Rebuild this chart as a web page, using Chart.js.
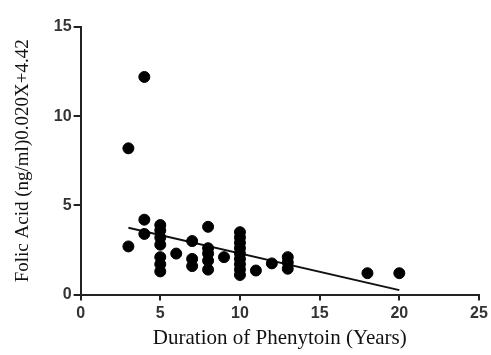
<!DOCTYPE html>
<html>
<head>
<meta charset="utf-8">
<script src="https://cdn.jsdelivr.net/npm/chart.js@4"></script>
<style>
  html, body { margin: 0; padding: 0; background: #fff; }
  #wrap { width: 491px; height: 355px; }
</style>
</head>
<body>
<div id="wrap"><canvas id="folicChart" width="491" height="355"></canvas></div>
<script>
// Patient data: duration of phenytoin (years) vs folic acid (ng/ml)
const durationYears = [3, 3, 4, 4, 4, 5, 5, 5, 5, 5, 5, 5, 6, 7, 7, 7, 8, 8, 8, 8, 8, 9,
    10, 10, 10, 10, 10, 10, 10, 10, 10, 11, 12, 13, 13, 13, 18, 20];
const folicAcid = [8.2, 2.7, 12.2, 4.2, 3.4, 3.9, 3.6, 3.2, 2.8, 2.1, 1.7, 1.3, 2.3, 3.0, 2.0, 1.6,
    3.8, 2.6, 2.3, 1.9, 1.4, 2.1,
    3.5, 3.2, 2.9, 2.6, 2.3, 2.0, 1.7, 1.4, 1.1, 1.35, 1.75, 2.1, 1.8, 1.45, 1.2, 1.2];

// Regression line end points
const fitX = [3, 20];
const fitY = [3.75, 0.25];

const xTicks = [0, 5, 10, 15, 20, 25];
const yTicks = [0, 5, 10, 15];

const axisColor = '#222';
const tickFont = { family: 'Liberation Sans', size: 16, weight: 'bold' };

const ctx = document.getElementById('folicChart');
new Chart(ctx, {
    data: {
        datasets: [{
            type: 'scatter',
            data: durationYears.map((x, i) => ({ x: x, y: folicAcid[i] })),
            backgroundColor: '#000',
            borderColor: '#000',
            pointRadius: 5.5,
            pointHoverRadius: 5.5
        }, {
            type: 'line',
            data: fitX.map((x, i) => ({ x: x, y: fitY[i] })),
            borderColor: '#111',
            borderWidth: 2,
            pointRadius: 0,
            fill: false
        }]
    },
    options: {
        responsive: false,
        animation: false,
        layout: { padding: { top: 27, right: 12, left: 12, bottom: 4 } },
        plugins: {
            legend: { display: false },
            tooltip: { enabled: false }
        },
        scales: {
            x: {
                type: 'linear',
                min: 0,
                max: 25,
                afterBuildTicks: axis => { axis.ticks = xTicks.map(v => ({ value: v })); },
                grid: { display: true, drawOnChartArea: false, drawTicks: true, tickLength: 6, color: axisColor, lineWidth: 2 },
                border: { display: true, color: axisColor, width: 2 },
                ticks: { color: '#333', font: tickFont, padding: 3 },
                title: {
                    display: true,
                    text: 'Duration of Phenytoin (Years)',
                    color: '#111',
                    font: { family: 'Liberation Serif', size: 21 },
                    padding: { top: 0, bottom: 0 }
                }
            },
            y: {
                type: 'linear',
                min: 0,
                max: 15,
                afterBuildTicks: axis => { axis.ticks = yTicks.map(v => ({ value: v })); },
                grid: { display: true, drawOnChartArea: false, drawTicks: true, tickLength: 7, color: axisColor, lineWidth: 2 },
                border: { display: true, color: axisColor, width: 2 },
                ticks: { color: '#333', font: tickFont, padding: 2 },
                title: {
                    display: true,
                    text: 'Folic Acid (ng/ml)0.020X+4.42',
                    color: '#111',
                    font: { family: 'Liberation Serif', size: 19 },
                    padding: { top: 0, bottom: 17 }
                }
            }
        }
    }
});
</script>
</body>
</html>
